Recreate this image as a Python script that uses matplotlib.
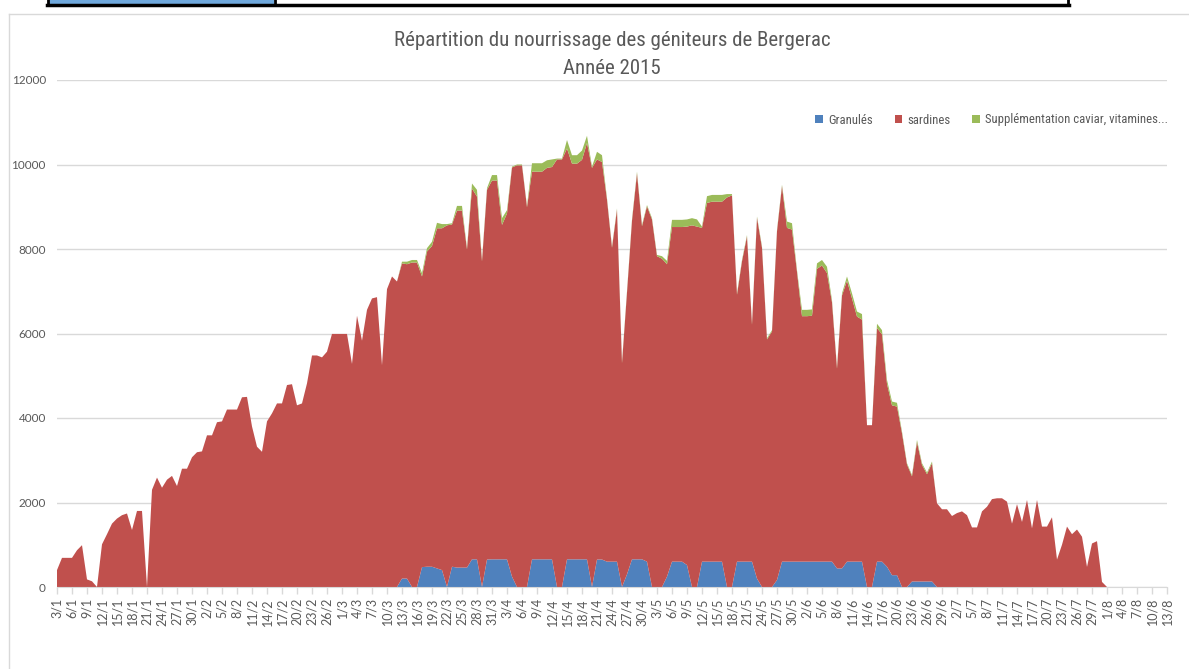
import matplotlib
matplotlib.use("Agg")
import matplotlib.pyplot as plt
import pandas as pd
from matplotlib.patches import Rectangle
from matplotlib.lines import Line2D

plt.rcParams['font.family'] = ['Lato', 'DejaVu Sans']
narrow = ['Liberation Sans Narrow', 'Roboto Condensed', 'Roboto', 'DejaVu Sans']

# une valeur par jour, du 3/1 au 13/8/2015
dates = pd.date_range("2015-01-03", "2015-08-13", freq="D")

granules = [0] * 68 + [
    0, 200, 200, 0, 0, 470, 480, 480, 440, 400, 0, 480,
    460, 460, 460, 655, 655, 0, 650, 655, 655, 655,
    655, 245, 0, 0, 0, 655, 655, 655, 655, 655,
    0, 0, 655, 655, 655, 655, 655, 0, 650, 650,
    600, 600, 600, 0, 300, 655, 655, 655, 600, 0,
    0, 0, 245, 600, 600, 600, 520, 0, 0, 600,
    600, 600, 600, 600, 0, 0, 600, 600, 600, 600,
    200, 0, 0, 0, 165, 600, 600, 600, 600, 600,
    600, 600, 600, 600, 600, 600, 440, 440, 600, 600,
    600, 600, 0, 0, 600, 600, 480, 280, 280, 0,
    0, 130, 130, 130, 130, 130] + [0] * 47

sardines = [
    400, 690, 690, 690, 870, 990, 180, 135, 0, 1010,
    1250, 1500, 1620, 1700, 1740, 1350, 1800, 1800, 0, 2300,
    2590, 2350, 2540, 2630, 2390, 2800, 2800, 3070, 3190, 3210,
    3590, 3590, 3900, 3920, 4200, 4200, 4200, 4490, 4500, 3800,
    3320, 3200, 3920, 4110, 4345, 4345, 4780, 4800, 4300, 4345,
    4820, 5480, 5480, 5435, 5570, 5990, 5990, 5990, 5990, 5280,
    6420, 5830, 6560, 6830, 6860, 5250, 7050, 7350, 7230,
    7460, 7440, 7680, 7680, 6880, 7460, 7590, 8050, 8090, 8560, 8100,
    8450, 8450, 7530, 8775, 8585, 7710, 8750, 8965, 8965, 7915,
    8185, 9685, 9980, 9980, 8990, 9175, 9175, 9175, 9265, 9285,
    10120, 10120, 9725, 9365, 9365, 9455, 9855, 9920, 9470, 9410,
    8570, 7430, 8330, 5300, 6670, 8015, 9135, 7885, 8410, 8700,
    7830, 7770, 7395, 7920, 7920, 7920, 8010, 8560, 8530, 7900,
    8490, 8520, 8520, 8520, 9220, 9270, 6320, 7110, 7700, 5610,
    8540, 8030, 5860, 6050, 8255, 8890, 7900, 7860, 6860, 5810,
    5810, 5820, 6930, 7010, 6830, 6140, 4730, 6460, 6650, 6230,
    5800, 5730, 3830, 3830, 5530, 5380, 4330, 4020, 3990, 3640,
    2900, 2490, 3300, 2760, 2540, 2800, 1980, 1840, 1840, 1680,
    1750, 1790, 1700, 1410, 1410, 1790, 1900, 2080, 2100, 2100,
    2020, 1500, 1960, 1540, 2060, 1390, 2060, 1430, 1430, 1650,
    650, 1000, 1430, 1250, 1360, 1190, 475, 1030, 1085, 120] + [0] * 13

supplementation = [0] * 69 + [
    40, 60, 60, 60, 80, 80, 100, 130, 100, 30, 30,
    110, 110, 30, 120, 160, 30, 40, 130, 130, 160,
    80, 20, 20, 20, 30, 200, 200, 200, 180, 180,
    20, 20, 200, 200, 200, 220, 170, 30, 180, 160,
    30, 30, 30, 30, 30, 30, 40, 30, 30, 30,
    30, 60, 80, 170, 170, 170, 170, 170, 170, 30,
    160, 160, 160, 160, 80, 30, 30, 30, 30, 30,
    30, 30, 30, 30, 30, 30, 150, 150, 40, 150,
    150, 150, 130, 130, 150, 50, 30, 50, 100, 120,
    120, 130, 0, 0, 100, 100, 90, 90, 90, 40,
    30, 30, 50, 40, 40, 40] + [0] * 47

series_names = ["Granulés", "sardines", "Supplémentation caviar, vitamines..."]
colors = ["#4f81bd", "#c0504d", "#9bbb59"]
tick_dates = dates[::3]
tick_labels = [f"{d.day}/{d.month}" for d in tick_dates]

grey = "#595959"

fig = plt.figure(figsize=(11.89, 6.69), dpi=100)
ax = fig.add_axes([57 / 1189, 82 / 669, 1110 / 1189, 507 / 669])

ax.stackplot(dates, granules, sardines, supplementation,
             labels=series_names, colors=colors, linewidth=0)

ax.set_xlim(dates[0], dates[-1])
ax.set_ylim(0, 12000)
ax.set_yticks(range(0, 12001, 2000))
ax.set_xticks(tick_dates)
ax.set_xticklabels(tick_labels, rotation=90)
ax.tick_params(axis="x", colors="#d9d9d9", labelcolor=grey, labelsize=9,
               length=5, width=1, pad=3)
ax.tick_params(axis="y", length=0, labelcolor=grey, labelsize=8.5, pad=8)
ax.grid(axis="y", color="#d9d9d9", linewidth=1)
ax.set_axisbelow(True)
for s in ["top", "right", "left"]:
    ax.spines[s].set_visible(False)
ax.spines["bottom"].set_color("#d9d9d9")

fig.text(612 / 1189, 1 - 40 / 669, "Répartition du nourrissage des géniteurs de Bergerac",
         ha="center", va="center", fontsize=15, color=grey, family=narrow)
fig.text(612 / 1189, 1 - 68 / 669, "Année 2015",
         ha="center", va="center", fontsize=15, color=grey, family=narrow)

fig.legend(loc="center right", bbox_to_anchor=(1168 / 1189, 1 - 120 / 669),
           ncol=3, frameon=False, prop={"family": narrow, "size": 9.2},
           labelcolor=grey, handlelength=0.6, handleheight=0.6,
           handletextpad=0.4, columnspacing=1.7, borderaxespad=0, borderpad=0)

# cadre du graphique et bandeau en haut (capture d'ecran)
fig.add_artist(Line2D([9 / 1189, 1], [1 - 14 / 669, 1 - 14 / 669],
                      transform=fig.transFigure, color="#d9d9d9", lw=1))
fig.add_artist(Line2D([9 / 1189, 9 / 1189], [0, 1 - 14 / 669],
                      transform=fig.transFigure, color="#d9d9d9", lw=1))
fig.add_artist(Rectangle((48 / 1189, 1 - 4 / 669), 226 / 1189, 4 / 669,
                         transform=fig.transFigure, color="#6fa8dc", lw=0))
fig.add_artist(Line2D([47 / 1189, 1069 / 1189], [1 - 5 / 669, 1 - 5 / 669],
                      transform=fig.transFigure, color="black", lw=2.5))
for xp in [48, 275, 1068]:
    fig.add_artist(Line2D([xp / 1189, xp / 1189], [1 - 5 / 669, 1],
                          transform=fig.transFigure, color="black", lw=2))

fig.savefig("out.png", dpi=100)
